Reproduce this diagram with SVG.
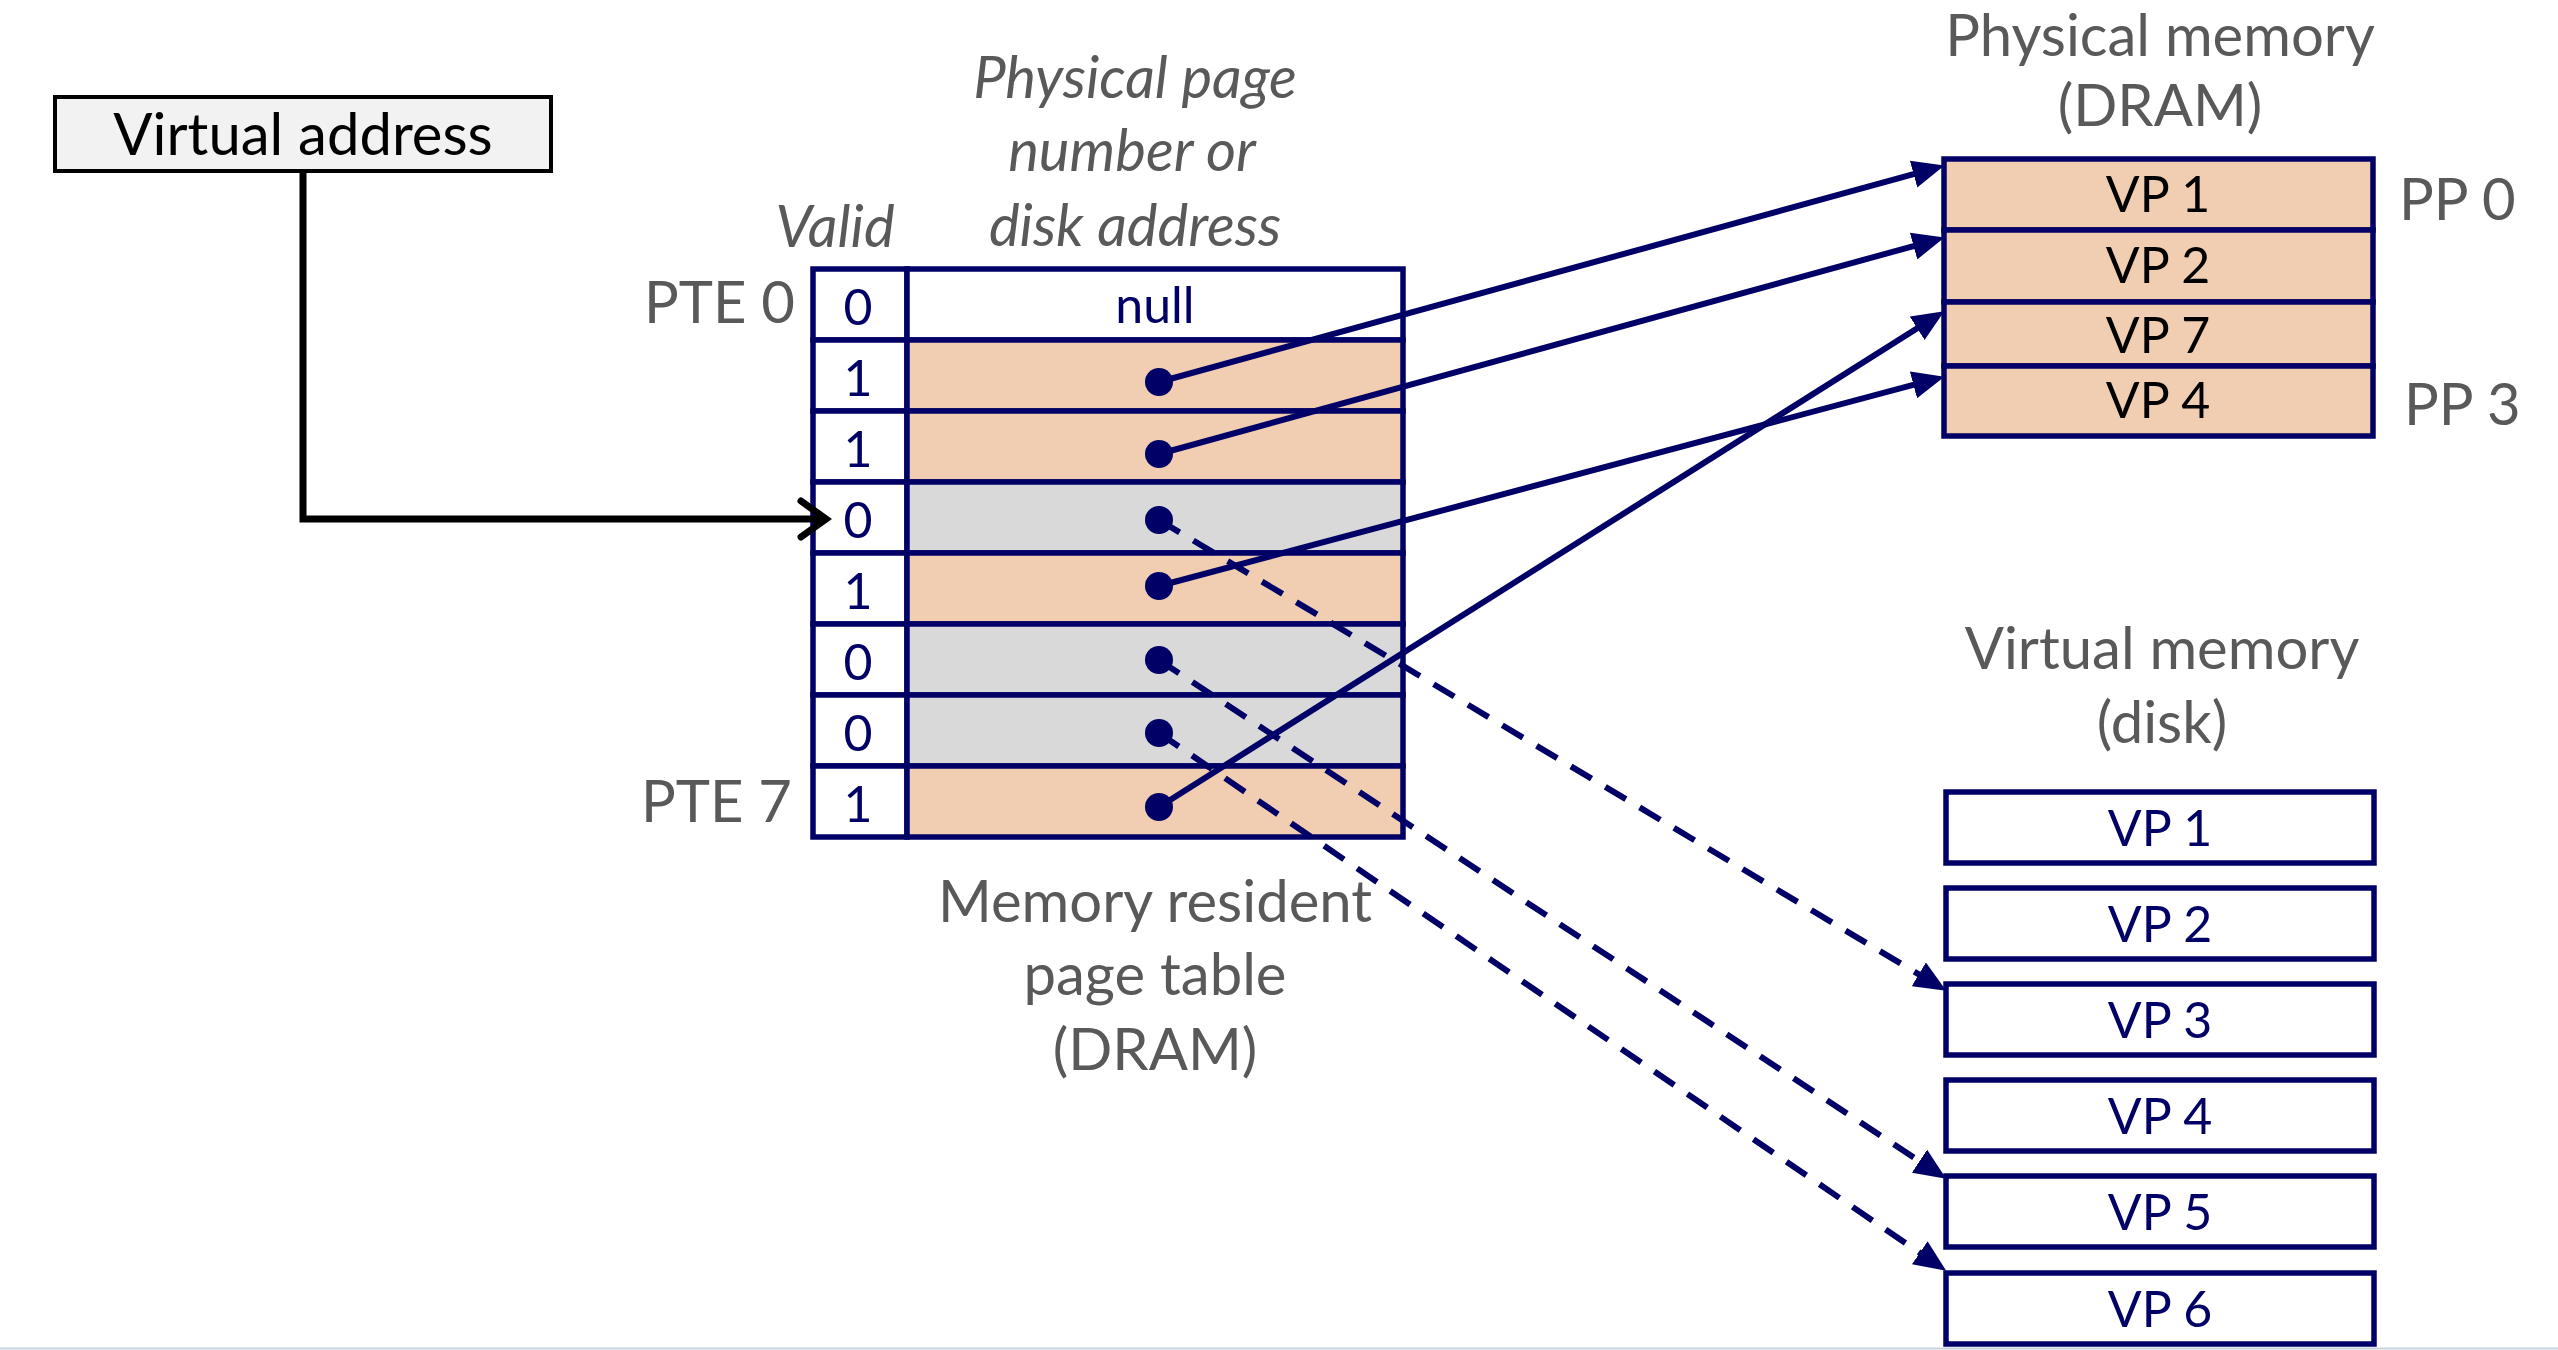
<svg xmlns="http://www.w3.org/2000/svg" width="2558" height="1350" viewBox="0 0 2558 1350">
<style>
text{font-family:Lato,"Open Sans","Liberation Sans",sans-serif}
.lbl{fill:#595959;font-size:58px}
.it{font-style:italic}
.mid{text-anchor:middle}
.cell{stroke:#000066;stroke-width:5.5}
.w{fill:#ffffff}
.pe{fill:#f1cdb1}
.gr{fill:#d9d9d9}
.nv{fill:#000066;font-size:50px}
.bk{fill:#000000;font-size:50px}
.dot{fill:#000066}
.con{fill:none;stroke:#000066;stroke-width:6}
.dash{stroke-dasharray:24 16}
</style>
<defs>
<marker id="ah" markerUnits="userSpaceOnUse" markerWidth="32" markerHeight="28" viewBox="0 0 30 26" refX="8" refY="13" orient="auto">
<path d="M0,0 L30,13 L0,26 Z" fill="#000066"/>
</marker>
</defs>
<rect width="2558" height="1350" fill="#ffffff"/>
<line x1="0" y1="1348.5" x2="2558" y2="1348.5" stroke="#c8d4dc" stroke-width="2"/>

<g id="virtual-address">
<rect x="55" y="97" width="496" height="74" fill="#f2f2f2" stroke="#000000" stroke-width="4"/>
<text x="303" y="155" class="mid" font-size="58" fill="#000000">Virtual address</text>
</g>

<g id="header-labels">
<text x="1135" y="98" class="lbl it mid">Physical page</text>
<text x="1132" y="171" class="lbl it mid">number or</text>
<text x="1135" y="246" class="lbl it mid">disk address</text>
<text x="835" y="247" class="lbl it mid">Valid</text>
<text x="795" y="323" class="lbl" text-anchor="end">PTE 0</text>
<text x="792" y="822" class="lbl" text-anchor="end">PTE 7</text>
</g>

<g id="page-table">
<g id="pte0"><rect x="813" y="269" width="94" height="71" class="cell w"/><rect x="907" y="269" width="496" height="71" class="cell w"/><text x="858" y="325" class="nv mid">0</text><text x="1155" y="323" class="nv mid">null</text></g>
<g id="pte1"><rect x="813" y="340" width="94" height="71" class="cell w"/><rect x="907" y="340" width="496" height="71" class="cell pe"/><text x="858" y="396" class="nv mid">1</text><circle cx="1159" cy="382" r="14" class="dot"/></g>
<g id="pte2"><rect x="813" y="411" width="94" height="71" class="cell w"/><rect x="907" y="411" width="496" height="71" class="cell pe"/><text x="858" y="467" class="nv mid">1</text><circle cx="1159" cy="454" r="14" class="dot"/></g>
<g id="pte3"><rect x="813" y="482" width="94" height="71" class="cell w"/><rect x="907" y="482" width="496" height="71" class="cell gr"/><text x="858" y="538" class="nv mid">0</text><circle cx="1159" cy="520" r="14" class="dot"/></g>
<g id="pte4"><rect x="813" y="553" width="94" height="71" class="cell w"/><rect x="907" y="553" width="496" height="71" class="cell pe"/><text x="858" y="609" class="nv mid">1</text><circle cx="1159" cy="586" r="14" class="dot"/></g>
<g id="pte5"><rect x="813" y="624" width="94" height="71" class="cell w"/><rect x="907" y="624" width="496" height="71" class="cell gr"/><text x="858" y="680" class="nv mid">0</text><circle cx="1159" cy="660" r="14" class="dot"/></g>
<g id="pte6"><rect x="813" y="695" width="94" height="71" class="cell w"/><rect x="907" y="695" width="496" height="71" class="cell gr"/><text x="858" y="751" class="nv mid">0</text><circle cx="1159" cy="733" r="14" class="dot"/></g>
<g id="pte7"><rect x="813" y="766" width="94" height="71" class="cell w"/><rect x="907" y="766" width="496" height="71" class="cell pe"/><text x="858" y="822" class="nv mid">1</text><circle cx="1159" cy="807" r="14" class="dot"/></g>
</g>

<g id="page-table-label">
<text x="1155" y="922" class="lbl mid">Memory resident</text>
<text x="1155" y="995" class="lbl mid">page table</text>
<text x="1155" y="1070" class="lbl mid">(DRAM)</text>
</g>

<g id="physical-memory">
<text x="2160" y="56" class="lbl mid" font-size="56">Physical memory</text>
<text x="2160" y="126" class="lbl mid">(DRAM)</text>
<rect x="1944" y="159" width="429" height="71" class="cell pe"/>
<rect x="1944" y="230" width="429" height="72" class="cell pe"/>
<rect x="1944" y="302" width="429" height="64" class="cell pe"/>
<rect x="1944" y="366" width="429" height="70" class="cell pe"/>
<text x="2158" y="212" class="bk mid">VP 1</text>
<text x="2158" y="283" class="bk mid">VP 2</text>
<text x="2158" y="353" class="bk mid">VP 7</text>
<text x="2158" y="418" class="bk mid">VP 4</text>
<text x="2399" y="220" class="lbl">PP 0</text>
<text x="2404" y="425" class="lbl">PP 3</text>
</g>

<g id="virtual-memory">
<text x="2162" y="669" class="lbl mid">Virtual memory</text>
<text x="2162" y="743" class="lbl mid">(disk)</text>
<g id="disk-vp1"><rect x="1946" y="792" width="428" height="71" class="cell w"/><text x="2160" y="846" class="nv mid">VP 1</text></g>
<g id="disk-vp2"><rect x="1946" y="888" width="428" height="71" class="cell w"/><text x="2160" y="942" class="nv mid">VP 2</text></g>
<g id="disk-vp3"><rect x="1946" y="984" width="428" height="71" class="cell w"/><text x="2160" y="1038" class="nv mid">VP 3</text></g>
<g id="disk-vp4"><rect x="1946" y="1080" width="428" height="71" class="cell w"/><text x="2160" y="1134" class="nv mid">VP 4</text></g>
<g id="disk-vp5"><rect x="1946" y="1176" width="428" height="71" class="cell w"/><text x="2160" y="1230" class="nv mid">VP 5</text></g>
<g id="disk-vp6"><rect x="1946" y="1273" width="428" height="71" class="cell w"/><text x="2160" y="1327" class="nv mid">VP 6</text></g>
</g>

<g id="connectors">
<path d="M303,171 V519 H824" fill="none" stroke="#000000" stroke-width="7"/>
<path d="M801,501 L826,519 L801,537" fill="none" stroke="#000000" stroke-width="7" stroke-linecap="round" stroke-linejoin="miter"/>
<line x1="1159" y1="382" x2="1921.8" y2="171.8" class="con" marker-end="url(#ah)"/>
<line x1="1159" y1="454" x2="1921.8" y2="243.8" class="con" marker-end="url(#ah)"/>
<line x1="1159" y1="586" x2="1921.7" y2="382.7" class="con" marker-end="url(#ah)"/>
<line x1="1159" y1="807" x2="1924.4" y2="323.7" class="con" marker-end="url(#ah)"/>
<line x1="1159" y1="520" x2="1926.1" y2="978.7" class="con dash" marker-end="url(#ah)"/>
<line x1="1159" y1="660" x2="1926.6" y2="1165.9" class="con dash" marker-end="url(#ah)"/>
<line x1="1159" y1="733" x2="1926.8" y2="1257.6" class="con dash" marker-end="url(#ah)"/>
</g>
</svg>
